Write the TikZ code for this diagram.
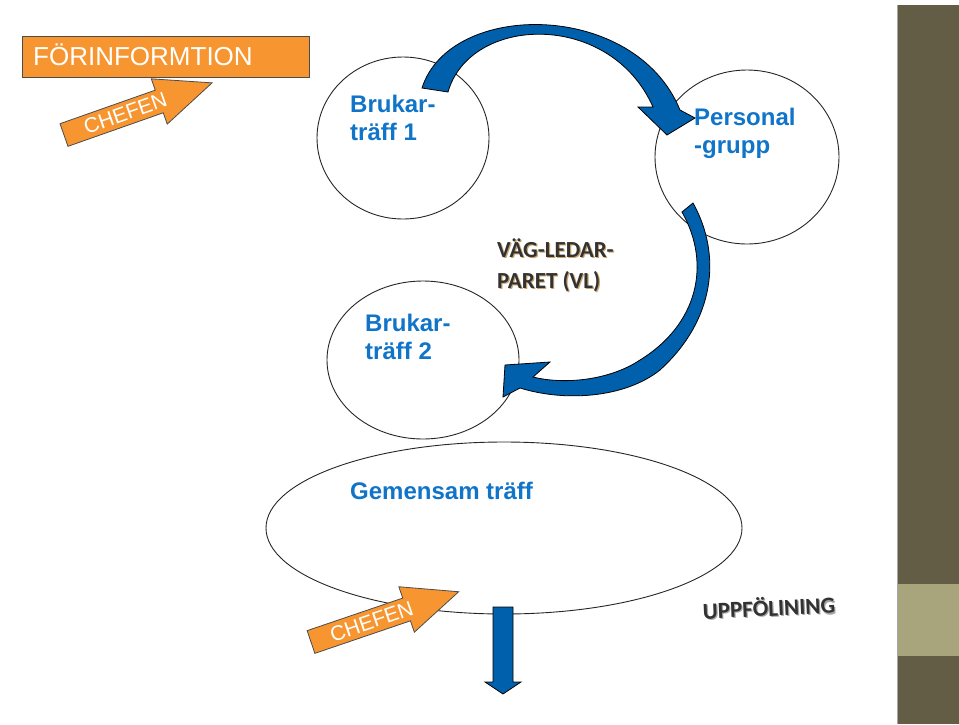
\documentclass[tikz,border=0pt]{standalone}
\usepackage{fontspec}
\setmainfont{Liberation Sans}
\newfontfamily\calib{Carlito}
\usetikzlibrary{shapes.geometric}
\definecolor{bluetxt}{RGB}{16,116,200}
\definecolor{bluefill}{RGB}{0,96,172}
\definecolor{orangefill}{RGB}{247,150,48}
\definecolor{bardark}{RGB}{100,93,70}
\definecolor{barlight}{RGB}{168,164,124}
\definecolor{darktxt}{RGB}{50,50,50}
\definecolor{shadowtxt}{RGB}{200,165,110}
\newcommand{\shadowed}[2]{\makebox[0pt][l]{\hspace{1.2pt}\raisebox{-1.2pt}{\color{#1}#2}}#2}
\pgfdeclareradialshading{vign}{\pgfpoint{0bp}{0bp}}{color(0bp)=(white); color(38bp)=(white); color(71bp)=(black!13)}
\begin{document}
\begin{tikzpicture}[x=1pt,y=-1pt,
 circ/.style={draw=black!85, line width=0.9pt, ellipse, inner sep=0pt},
 bluetext/.style={text=bluetxt, font=\fontsize{24}{28}\selectfont\bfseries, anchor=base west, inner sep=0pt},
 blueshape/.style={fill=bluefill, draw=black, line width=0.8pt, line join=miter},
 orangeshape/.style={fill=orangefill, draw=black!70, line width=0.8pt},
 chefentext/.style={text=white, font=\fontsize{21}{25}\selectfont, inner sep=0pt},
 vltext/.style={text=darktxt, font=\calib\bfseries\fontsize{23}{27}\selectfont, anchor=base west, inner sep=0pt},
]
\useasboundingbox (0,0) rectangle (959,724);
\fill[white] (0,0) rectangle (959,724);
\shade[shading=vign] (8,6) rectangle (897,724);
\fill[bardark] (897,5) rectangle (959,724);
\fill[barlight] (897,584) rectangle (959,656);
\draw[black!35, line width=1pt] (897.5,5) -- (897.5,724);

% circles
\node[circ, minimum width=172pt, minimum height=162pt] (c1) at (403,138) {};
\node[circ, minimum width=184pt, minimum height=174pt] (c2) at (747,157) {};
\node[circ, minimum width=192pt, minimum height=158pt] (c3) at (423,360) {};
\node[circ, minimum width=476pt, minimum height=172pt] (c4) at (504,528) {};

% texts in circles
\node[bluetext] (t1a) at (350,112) {Brukar-};
\node[bluetext] (t1b) at (350,140) {träff 1};
\node[bluetext] (t2a) at (694,125) {Personal};
\node[bluetext] (t2b) at (694,153) {-grupp};
\node[bluetext] (t3a) at (365,331) {Brukar-};
\node[bluetext] (t3b) at (365,359) {träff 2};
\node[bluetext] (t4) at (350,499) {Gemensam träff};

% blue curved arrow c1 -> c2
\filldraw[blueshape] (422,88) .. controls (450,0) and (635,0) .. (680,110)
  -- (695,118) -- (667,135) -- (638,107) -- (653,107)
  .. controls (610,10) and (470,15) .. (448,92) -- cycle;

% blue curved arrow c2 -> c3
\filldraw[blueshape] (693,203) .. controls (722,255) and (715,320) .. (660,370)
  .. controls (625,398) and (565,402) .. (520,388)
  -- (503,397) -- (505,365) -- (550,362) -- (533,377)
  .. controls (565,385) and (610,380) .. (640,360)
  .. controls (697,325) and (712,265) .. (682,212) -- cycle;

% blue down arrow from c4
\filldraw[blueshape] (493,607) -- (513,607) -- (513,682) -- (521,682) -- (503,694) -- (485,682) -- (493,682) -- cycle;

% FÖRINFORMTION box
\node[orangeshape, minimum width=287pt, minimum height=41pt, inner sep=0pt] (fbox) at (165.5,56.5) {};
\node[text=white, font=\fontsize{26}{30}\selectfont, anchor=base west, inner sep=0pt] (ftxt) at (33,65) {FÖRINFORMTION};

% orange CHEFEN arrows
\begin{scope}[shift={(64,135)}, rotate=19.4]
\filldraw[orangeshape] (0,-12) -- (101,-12) -- (101,-24) -- (157,0) -- (101,24) -- (101,12) -- (0,12) -- cycle;
\node[chefentext, rotate=19.4] (ch1) at (65,0) {CHEFEN};
\end{scope}
\begin{scope}[shift={(311,642)}, rotate=18.8]
\filldraw[orangeshape] (0,-12) -- (101,-12) -- (101,-24) -- (156,0) -- (101,24) -- (101,12) -- (0,12) -- cycle;
\node[chefentext, rotate=18.8] (ch2) at (64,0) {CHEFEN};
\end{scope}

% VL text
\node[vltext] (vl1) at (497,257) {\shadowed{shadowtxt}{VÄG-LEDAR-}};
\node[vltext] (vl2) at (497,288) {\shadowed{shadowtxt}{PARET (VL)}};

% UPPFÖLINING
\node[vltext, rotate=2.5] (upp) at (703,619) {\shadowed{black!35}{UPPFÖLINING}};
\end{tikzpicture}
\end{document}
